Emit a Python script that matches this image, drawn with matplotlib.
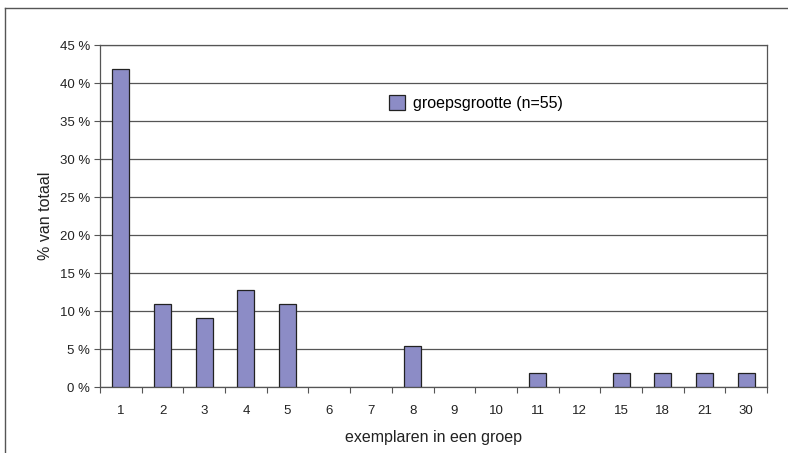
import numpy as np
import matplotlib.pyplot as plt
from matplotlib.lines import Line2D

plt.rcParams['font.family'] = ['Liberation Sans', 'DejaVu Sans']

# group sizes and share of the 55 observed groups
group_sizes = ['1', '2', '3', '4', '5', '6', '7', '8', '9', '10', '11', '12', '15', '18', '21', '30']
counts = [23, 6, 5, 7, 6, 0, 0, 3, 0, 0, 1, 0, 1, 1, 1, 1]
total = 55
percent = [100.0 * c / total for c in counts]

W, H = 788, 453
fig = plt.figure(figsize=(W / 100, H / 100), dpi=100)
ax = fig.add_axes([100 / W, 1 - 387 / H, 667 / W, 342 / H])

x = np.arange(len(group_sizes))
bars = ax.bar(x, percent, width=0.41, color='#8c8cc6', edgecolor='#222222', linewidth=0.9,
              label='groepsgrootte (n=55)', zorder=3)
# empty groups get no outline
for b, p in zip(bars, percent):
    if p == 0:
        b.set_visible(False)

ax.set_xlim(-0.5, len(group_sizes) - 0.5)
ax.set_ylim(0, 45)
ax.set_yticks(np.arange(0, 46, 5))
ax.set_yticklabels(['{} %'.format(v) for v in range(0, 46, 5)])
ax.yaxis.grid(True, color='#555555', linewidth=0.9, zorder=0)

# category labels in the middle, tick marks on the boundaries
ax.set_xticks(np.arange(-0.5, len(group_sizes), 1.0))
ax.set_xticklabels([])
ax.set_xticks(x, minor=True)
ax.set_xticklabels(group_sizes, minor=True)
ax.tick_params(axis='x', which='minor', length=0, pad=13, labelsize=9.5, colors='#222222')
ax.tick_params(axis='x', which='major', length=4, direction='out', color='#555555')
ax.tick_params(axis='y', length=4, direction='out', color='#555555', labelsize=9.5,
               labelcolor='#222222', pad=3)

for side in ['top', 'right', 'left', 'bottom']:
    ax.spines[side].set_color('#555555')
    ax.spines[side].set_linewidth(0.9)

ax.set_xlabel('exemplaren in een groep', fontsize=11.5, color='#222222', labelpad=9)
ax.set_ylabel('% van totaal', fontsize=11.5, color='#222222', labelpad=5)

ax.legend(loc='upper left', bbox_to_anchor=(283 / 667, 1 - 44 / 342), frameon=False,
          fontsize=11.5, handlelength=0.95, handleheight=1.0, handletextpad=0.55,
          borderaxespad=0)

# outer chart border
fig.add_artist(Line2D([5 / W, 5 / W], [0, 1 - 8 / H], color='#555555', linewidth=1.0))
fig.add_artist(Line2D([5 / W, 1], [1 - 8 / H, 1 - 8 / H], color='#555555', linewidth=1.0))

fig.savefig('out.png', dpi=100)
